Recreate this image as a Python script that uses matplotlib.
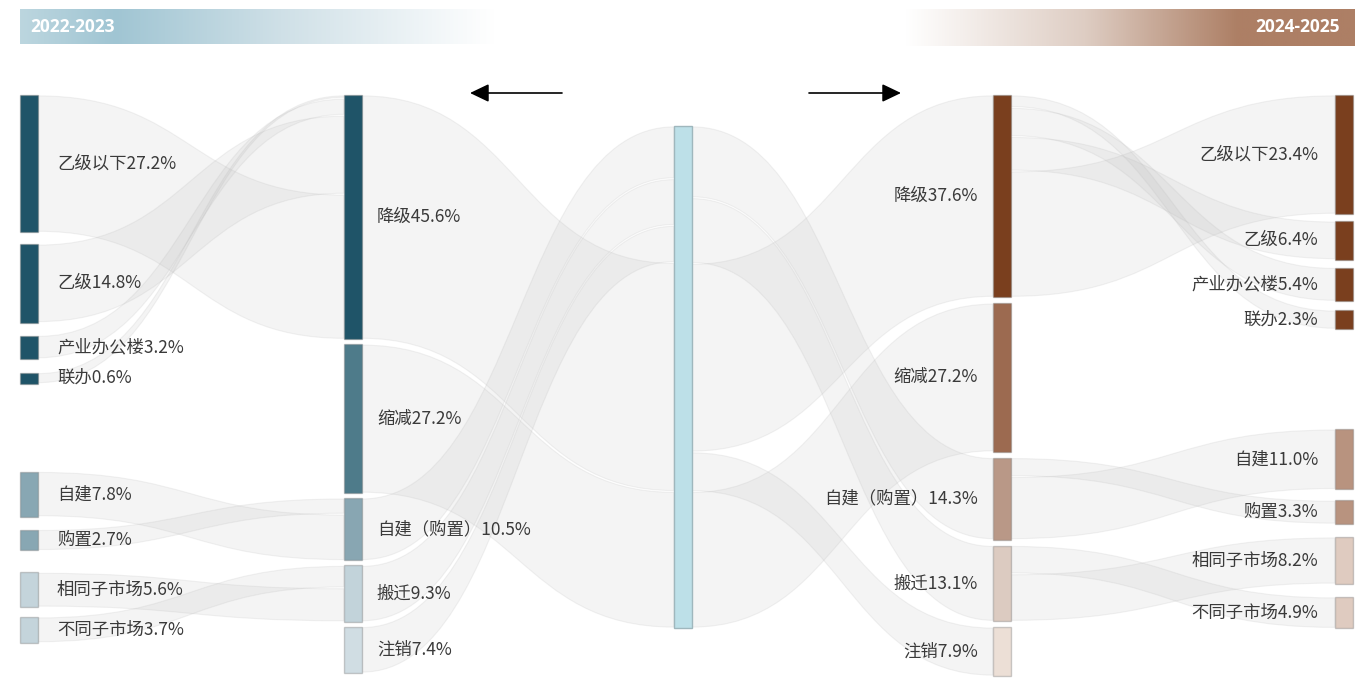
import numpy as np
import matplotlib.pyplot as plt
from matplotlib.path import Path
from matplotlib.patches import PathPatch, Rectangle
from matplotlib.colors import LinearSegmentedColormap

plt.rcParams['font.family'] = ['Noto Sans CJK SC', 'DejaVu Sans']

# data
src_labels = ['乙级以下', '乙级', '产业办公楼', '联办', '自建', '购置', '相同子市场', '不同子市场']
src_vals_2223 = [27.2, 14.8, 3.2, 0.6, 7.8, 2.7, 5.6, 3.7]
src_vals_2425 = [23.4, 6.4, 5.4, 2.3, 11.0, 3.3, 8.2, 4.9]
src_to_mid = [0, 0, 0, 0, 2, 2, 3, 3]
mid_labels = ['降级', '缩减', '自建（购置）', '搬迁', '注销']
mid_vals_2223 = [45.6, 27.2, 10.5, 9.3, 7.4]
mid_vals_2425 = [37.6, 27.2, 14.3, 13.1, 7.9]
years = ['2022-2023', '2024-2025']

# styles / layout
src_cols_l = ['#1f5468'] * 4 + ['#88a7b3'] * 2 + ['#c4d4db'] * 2
mid_cols_l = ['#1f5468', '#4e7b8a', '#88a6b2', '#c2d3da', '#d0dde3']
mid_cols_r = ['#7a3f1e', '#9c6a50', '#b99887', '#dccbc1', '#ecdfd6']
src_cols_r = ['#7a3f1e'] * 4 + ['#b8937f'] * 2 + ['#dfcbc0'] * 2
center_col = '#bde0e8'
W = 18
X0, X1, XC, X3, X4 = 20, 344, 674, 993, 1335
center_order_l = [2, 3, 4, 0, 1]
center_order_r = [2, 3, 0, 4, 1]
band_fc = (0.72, 0.72, 0.72, 0.15)
band_ec = (0.72, 0.72, 0.72, 0.18)

fig = plt.figure(figsize=(13.62, 6.82), dpi=100)
ax = fig.add_axes([0, 0, 1, 1])
ax.set_xlim(0, 1362)
ax.set_ylim(682, 0)
ax.axis('off')


def stack(vals, top, gaps, a, b):
    tops, bots = [], []
    y = top
    for v, g in zip(vals, gaps):
        y += g
        tops.append(y)
        y += a + b * v
        bots.append(y)
    return tops, bots


def split(top, bot, vals):
    vals = np.array(vals, dtype=float)
    edges = top + (bot - top) * np.concatenate([[0], np.cumsum(vals)]) / vals.sum()
    return list(zip(edges[:-1], edges[1:]))


def band(x0, s0, x1, s1, pad=0.9):
    y0a, y0b = s0[0] + pad, s0[1] - pad
    y1a, y1b = s1[0] + pad, s1[1] - pad
    xm = (x0 + x1) / 2
    verts = [(x0, y0a), (xm, y0a), (xm, y1a), (x1, y1a), (x1, y1b),
             (xm, y1b), (xm, y0b), (x0, y0b), (x0, y0a)]
    codes = [Path.MOVETO, Path.CURVE4, Path.CURVE4, Path.CURVE4, Path.LINETO,
             Path.CURVE4, Path.CURVE4, Path.CURVE4, Path.CLOSEPOLY]
    ax.add_patch(PathPatch(Path(verts, codes), fc=band_fc, ec=band_ec, lw=0.8, zorder=1))


def nodes(x, tops, bots, cols):
    for t, b, c in zip(tops, bots, cols):
        ax.add_patch(Rectangle((x, t), W, b - t, fc=c, ec=(0.45, 0.45, 0.45, 0.35),
                               lw=1.0, zorder=3))


t0, b0 = stack(src_vals_2223, 95, [0, 12, 13, 14, 88, 13, 22, 10], 8, 4.75)
t1, b1 = stack(mid_vals_2223, 95, [0, 5, 5, 5, 5], 8, 5.18)
tc, bc = 126, 126 + 5.02 * sum(mid_vals_2223)
t3, b3 = stack(mid_vals_2425, 95, [0, 6, 6, 6, 6], 8, 5.165)
t4, b4 = stack(src_vals_2425, 95, [0, 7, 8, 9, 100, 11, 13, 13], 8, 4.75)

# left sources -> left mid
for m in range(len(mid_labels)):
    srcs = [i for i in range(len(src_labels)) if src_to_mid[i] == m][::-1]
    if not srcs:
        continue
    segs = split(t1[m], b1[m], [src_vals_2223[i] for i in srcs])
    for i, s in zip(srcs, segs):
        band(X0 + W, (t0[i], b0[i]), X1, s)

# left mid -> center
segs = split(tc, bc, [mid_vals_2223[i] for i in center_order_l])
for i, s in zip(center_order_l, segs):
    band(X1 + W, (t1[i], b1[i]), XC, s)

# center -> right mid
segs = split(tc, bc, [mid_vals_2425[i] for i in center_order_r])
for i, s in zip(center_order_r, segs):
    band(XC + W, s, X3, (t3[i], b3[i]))

# right mid -> right sources
for m in range(len(mid_labels)):
    srcs = [i for i in range(len(src_labels)) if src_to_mid[i] == m][::-1]
    if not srcs:
        continue
    segs = split(t3[m], b3[m], [src_vals_2425[i] for i in srcs])
    for i, s in zip(srcs, segs):
        band(X3 + W, s, X4, (t4[i], b4[i]))

nodes(X0, t0, b0, src_cols_l)
nodes(X1, t1, b1, mid_cols_l)
nodes(X3, t3, b3, mid_cols_r)
nodes(X4, t4, b4, src_cols_r)
ax.add_patch(Rectangle((XC, tc), W, bc - tc, fc=center_col, ec='#9fb7bd', lw=1.0, zorder=3))

lab = dict(fontsize=12.5, color='#3a3a3a', va='center', zorder=4)
for name, v, t, b in zip(src_labels, src_vals_2223, t0, b0):
    ax.text(X0 + W + 19, (t + b) / 2, f'{name}{v:.1f}%', ha='left', **lab)
for name, v, t, b in zip(mid_labels, mid_vals_2223, t1, b1):
    ax.text(X1 + W + 15, (t + b) / 2, f'{name}{v:.1f}%', ha='left', **lab)
for name, v, t, b in zip(mid_labels, mid_vals_2425, t3, b3):
    ax.text(X3 - 15, (t + b) / 2, f'{name}{v:.1f}%', ha='right', **lab)
for name, v, t, b in zip(src_labels, src_vals_2425, t4, b4):
    ax.text(X4 - 17, (t + b) / 2, f'{name}{v:.1f}%', ha='right', **lab)

# banners
grad = np.linspace(0, 1, 512)[None, :]
cm_l = LinearSegmentedColormap.from_list('l', [(0, '#bcd6df'), (0.2, '#a0c5d3'),
                                               (0.55, '#cfe0e7'), (1, '#ffffff')])
cm_r = LinearSegmentedColormap.from_list('r', [(0, '#ffffff'), (0.4, '#decdc3'),
                                               (0.74, '#ad7f65'), (1, '#ad7f65')])
ax.imshow(grad, cmap=cm_l, extent=(20, 495, 44, 9), aspect='auto', zorder=0)
ax.imshow(grad, cmap=cm_r, extent=(905, 1355, 46, 9), aspect='auto', zorder=0)
ax.text(30, 27, years[0], family=['Open Sans', 'DejaVu Sans'], fontsize=12.5, fontweight='bold',
        color='white', ha='left', va='center', zorder=4)
ax.text(1340, 27, years[1], family=['Open Sans', 'DejaVu Sans'], fontsize=12.5, fontweight='bold',
        color='white', ha='right', va='center', zorder=4)

arrow = dict(arrowstyle='-|>,head_length=1.15,head_width=0.55', color='black', lw=1.2,
             mutation_scale=10, shrinkA=0, shrinkB=0)
ax.annotate('', xy=(470, 93), xytext=(562, 93), arrowprops=arrow)
ax.annotate('', xy=(901, 93), xytext=(809, 93), arrowprops=arrow)

ax.set_xlim(0, 1362)
ax.set_ylim(682, 0)
fig.savefig('out.png', dpi=100)
